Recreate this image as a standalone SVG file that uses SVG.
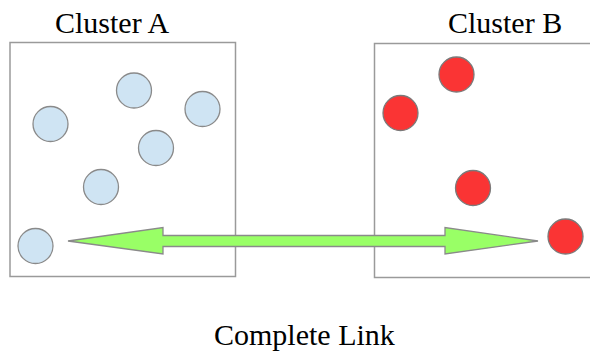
<svg xmlns="http://www.w3.org/2000/svg" width="590" height="354" viewBox="0 0 590 354">
  <style>
    .box { fill: none; stroke: #9a9a9a; stroke-width: 1.5; }
    .title { font-family: "Liberation Serif", "Times New Roman", serif; font-size: 30px; fill: #000; }
    .ptA { fill: #cfe4f3; stroke: #8a8a8a; stroke-width: 1.3; }
    .ptB { fill: #fa3434; stroke: #7a7a7a; stroke-width: 1.3; }
    .link { fill: #99ff66; stroke: #8a8a8a; stroke-width: 1.3; stroke-linejoin: miter; }
  </style>
  <rect width="590" height="354" fill="#ffffff"/>

  <g id="clusterA">
    <rect class="box" x="10" y="42.5" width="225.5" height="234"/>
    <text class="title" x="55" y="33">Cluster A</text>
    <circle class="ptA" cx="50.5" cy="124" r="17.5"/>
    <circle class="ptA" cx="134" cy="90.5" r="17.5"/>
    <circle class="ptA" cx="202.5" cy="109" r="17.5"/>
    <circle class="ptA" cx="156" cy="148" r="17.5"/>
    <circle class="ptA" cx="101" cy="187" r="17.5"/>
    <circle class="ptA" cx="35.5" cy="246" r="17.5"/>
  </g>

  <g id="clusterB">
    <path class="box" d="M 600 43.5 H 374.5 V 277.5 H 600"/>
    <text class="title" x="448" y="33">Cluster B</text>
    <circle class="ptB" cx="456.5" cy="74.5" r="17.5"/>
    <circle class="ptB" cx="400.5" cy="113" r="17.5"/>
    <circle class="ptB" cx="473" cy="188" r="17.5"/>
    <circle class="ptB" cx="565.5" cy="236.5" r="17.5"/>
  </g>

  <g id="connectors">
    <polygon class="link" points="68,241 163,227.5 163,235.5 445,235.5 445,227.5 538,241 445,254 445,246.5 163,246.5 163,254"/>
  </g>

  <g id="caption">
    <text class="title" x="214" y="345">Complete Link</text>
  </g>
</svg>
